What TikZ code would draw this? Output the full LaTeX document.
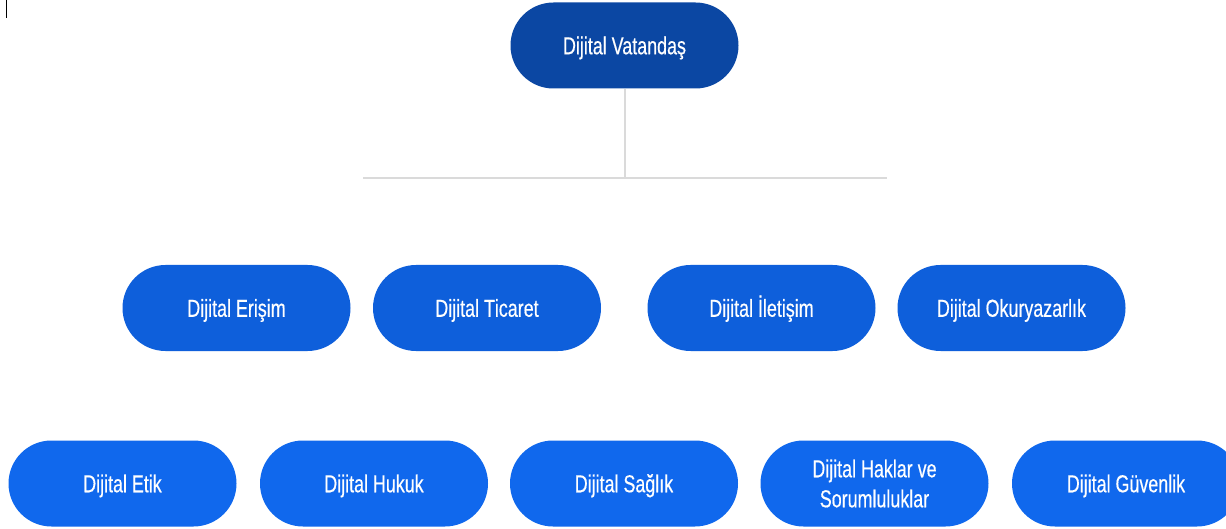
\documentclass[tikz,border=0pt]{standalone}
\usepackage{fontspec}
\setmainfont{Liberation Sans}[FakeStretch=0.73,FakeBold=0.4]
\definecolor{rootblue}{HTML}{0B47A3}
\definecolor{midblue}{HTML}{0E5FDB}
\definecolor{lowblue}{HTML}{1068ED}
\definecolor{linegray}{HTML}{DADADA}
\begin{document}
\begin{tikzpicture}[x=1pt,y=-1pt,
  pill/.style={rectangle, rounded corners=43pt, minimum width=228pt, minimum height=86pt,
    inner sep=0pt, text=white, align=center,
    font=\fontsize{24.5}{30}\selectfont},
  onel/.style={text height=17.5pt, text depth=0pt},
  rootpill/.style={pill, onel, fill=rootblue},
  midpill/.style={pill, onel, fill=midblue},
  lowpill/.style={pill, onel, fill=lowblue},
  twopill/.style={pill, fill=lowblue},
  conn/.style={draw=linegray, line width=2.2pt}]
\useasboundingbox (0,0) rectangle (1226,529);
\clip (0,0) rectangle (1226,529);
\fill[white] (0,0) rectangle (1226,529);
\draw[black, line width=1.1pt] (6.5,0) -- (6.5,18);
\node[rootpill] (root) at (624.5,45.5) {Dijital Vatandaş};
\coordinate (junc) at (625,178);
\coordinate (barL) at (363,178);
\coordinate (barR) at (887,178);
\draw[conn] (root.south -| junc) -- (junc);
\draw[conn] (barL) -- (barR);
\node[midpill] (erisim) at (236.5,308) {Dijital Erişim};
\node[midpill] (ticaret) at (487,308) {\addfontfeature{Kerning=Off}Dijital Ticaret};
\node[midpill] (iletisim) at (761.5,308) {Dijital İletişim};
\node[midpill] (okur) at (1011.5,308) {Dijital Okuryazarlık};
\node[lowpill] (etik) at (122.5,483.5) {Dijital Etik};
\node[lowpill] (hukuk) at (374,483.5) {Dijital Hukuk};
\node[lowpill] (saglik) at (624,483.5) {Dijital Sağlık};
\node[twopill] (haklar) at (874.5,483.5) {Dijital Haklar ve\\Sorumluluklar};
\node[lowpill] (guvenlik) at (1126,483.5) {Dijital Güvenlik};
\end{tikzpicture}
\end{document}
